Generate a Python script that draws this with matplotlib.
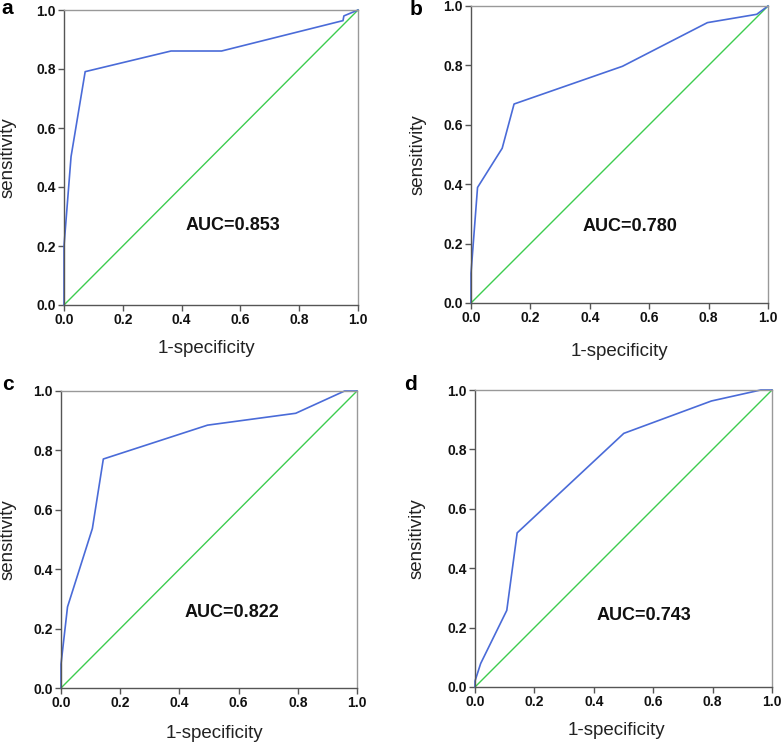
import matplotlib
matplotlib.use("Agg")
import matplotlib.pyplot as plt
from matplotlib.ticker import FormatStrFormatter

plt.rcParams['font.family'] = ['Liberation Sans', 'DejaVu Sans']

# ROC curves (1-specificity, sensitivity)
fpr_a = [0.0, 0.0, 0.024, 0.072, 0.364, 0.536, 0.949, 0.952, 1.0]
tpr_a = [0.0, 0.2, 0.503, 0.791, 0.861, 0.861, 0.964, 0.98, 1.0]
fpr_b = [0.0, 0.0, 0.022, 0.105, 0.145, 0.51, 0.796, 0.962, 1.0]
tpr_b = [0.0, 0.1, 0.389, 0.521, 0.67, 0.797, 0.944, 0.972, 1.0]
fpr_c = [0.0, 0.0, 0.022, 0.106, 0.143, 0.495, 0.793, 0.958, 1.0]
tpr_c = [0.0, 0.08, 0.273, 0.537, 0.771, 0.885, 0.925, 1.0, 1.0]
fpr_d = [0.0, 0.0, 0.019, 0.107, 0.142, 0.501, 0.796, 0.962, 1.0]
tpr_d = [0.0, 0.02, 0.079, 0.258, 0.519, 0.854, 0.963, 1.0, 1.0]

panels = ["a", "b", "c", "d"]
aucs = ["AUC=0.853", "AUC=0.780", "AUC=0.822", "AUC=0.743"]
ticks = [0.0, 0.2, 0.4, 0.6, 0.8, 1.0]

W, H = 784, 743
# axes boxes in pixels: left, top, right, bottom
boxes = [(64, 10, 358, 305), (471, 6, 768, 303), (61, 391, 357, 688), (475, 390, 772, 687)]
auc_pos = [(0.575, 0.27), (0.535, 0.256), (0.578, 0.253), (0.57, 0.242)]
ylab_x = [-0.163, -0.15, -0.149, -0.165]
xlab = [(0.483, -0.119), (0.5, -0.135), (0.517, -0.125), (0.475, -0.118)]
letter_pos = [(1, 14), (410, 15), (2, 390), (404, 390)]

blue = "#4a6bd8"
green = "#3dcc4f"

fig = plt.figure(figsize=(W / 100, H / 100), dpi=100)
curves = [(fpr_a, tpr_a), (fpr_b, tpr_b), (fpr_c, tpr_c), (fpr_d, tpr_d)]

for i, (fx, ty) in enumerate(curves):
    l, t, r, b = boxes[i]
    ax = fig.add_axes([l / W, (H - b) / H, (r - l) / W, (b - t) / H])
    ax.plot([0, 1], [0, 1], color=green, lw=1.0, clip_on=False)
    ax.plot(fx, ty, color=blue, lw=1.2, clip_on=False)
    ax.set_xlim(0, 1)
    ax.set_ylim(0, 1)
    ax.set_xticks(ticks)
    ax.set_yticks(ticks)
    ax.xaxis.set_major_formatter(FormatStrFormatter('%.1f'))
    ax.yaxis.set_major_formatter(FormatStrFormatter('%.1f'))
    ax.tick_params(direction='out', length=4, width=1, color='#555555', pad=2,
                   labelsize=10, labelcolor='#111111')
    for lab in ax.get_xticklabels() + ax.get_yticklabels():
        lab.set_fontweight('bold')
    for side in ['left', 'bottom']:
        ax.spines[side].set_color('#555555')
        ax.spines[side].set_linewidth(1.0)
    for side in ['top', 'right']:
        ax.spines[side].set_color('#999999')
        ax.spines[side].set_linewidth(1.0)
    ax.set_ylabel("sensitivity", fontsize=13.5, color='#222222')
    ax.yaxis.set_label_coords(ylab_x[i], 0.5)
    ax.set_xlabel("1-specificity", fontsize=13.5, color='#222222', va='top')
    ax.xaxis.set_label_coords(*xlab[i])
    ax.text(auc_pos[i][0], auc_pos[i][1], aucs[i], transform=ax.transAxes,
            ha='center', va='center', fontsize=13, fontweight='bold', color='#111111')
    fig.text(letter_pos[i][0] / W, 1 - letter_pos[i][1] / H, panels[i],
             fontsize=15, fontweight='bold', ha='left', va='baseline')

fig.savefig("out.png", dpi=100)
